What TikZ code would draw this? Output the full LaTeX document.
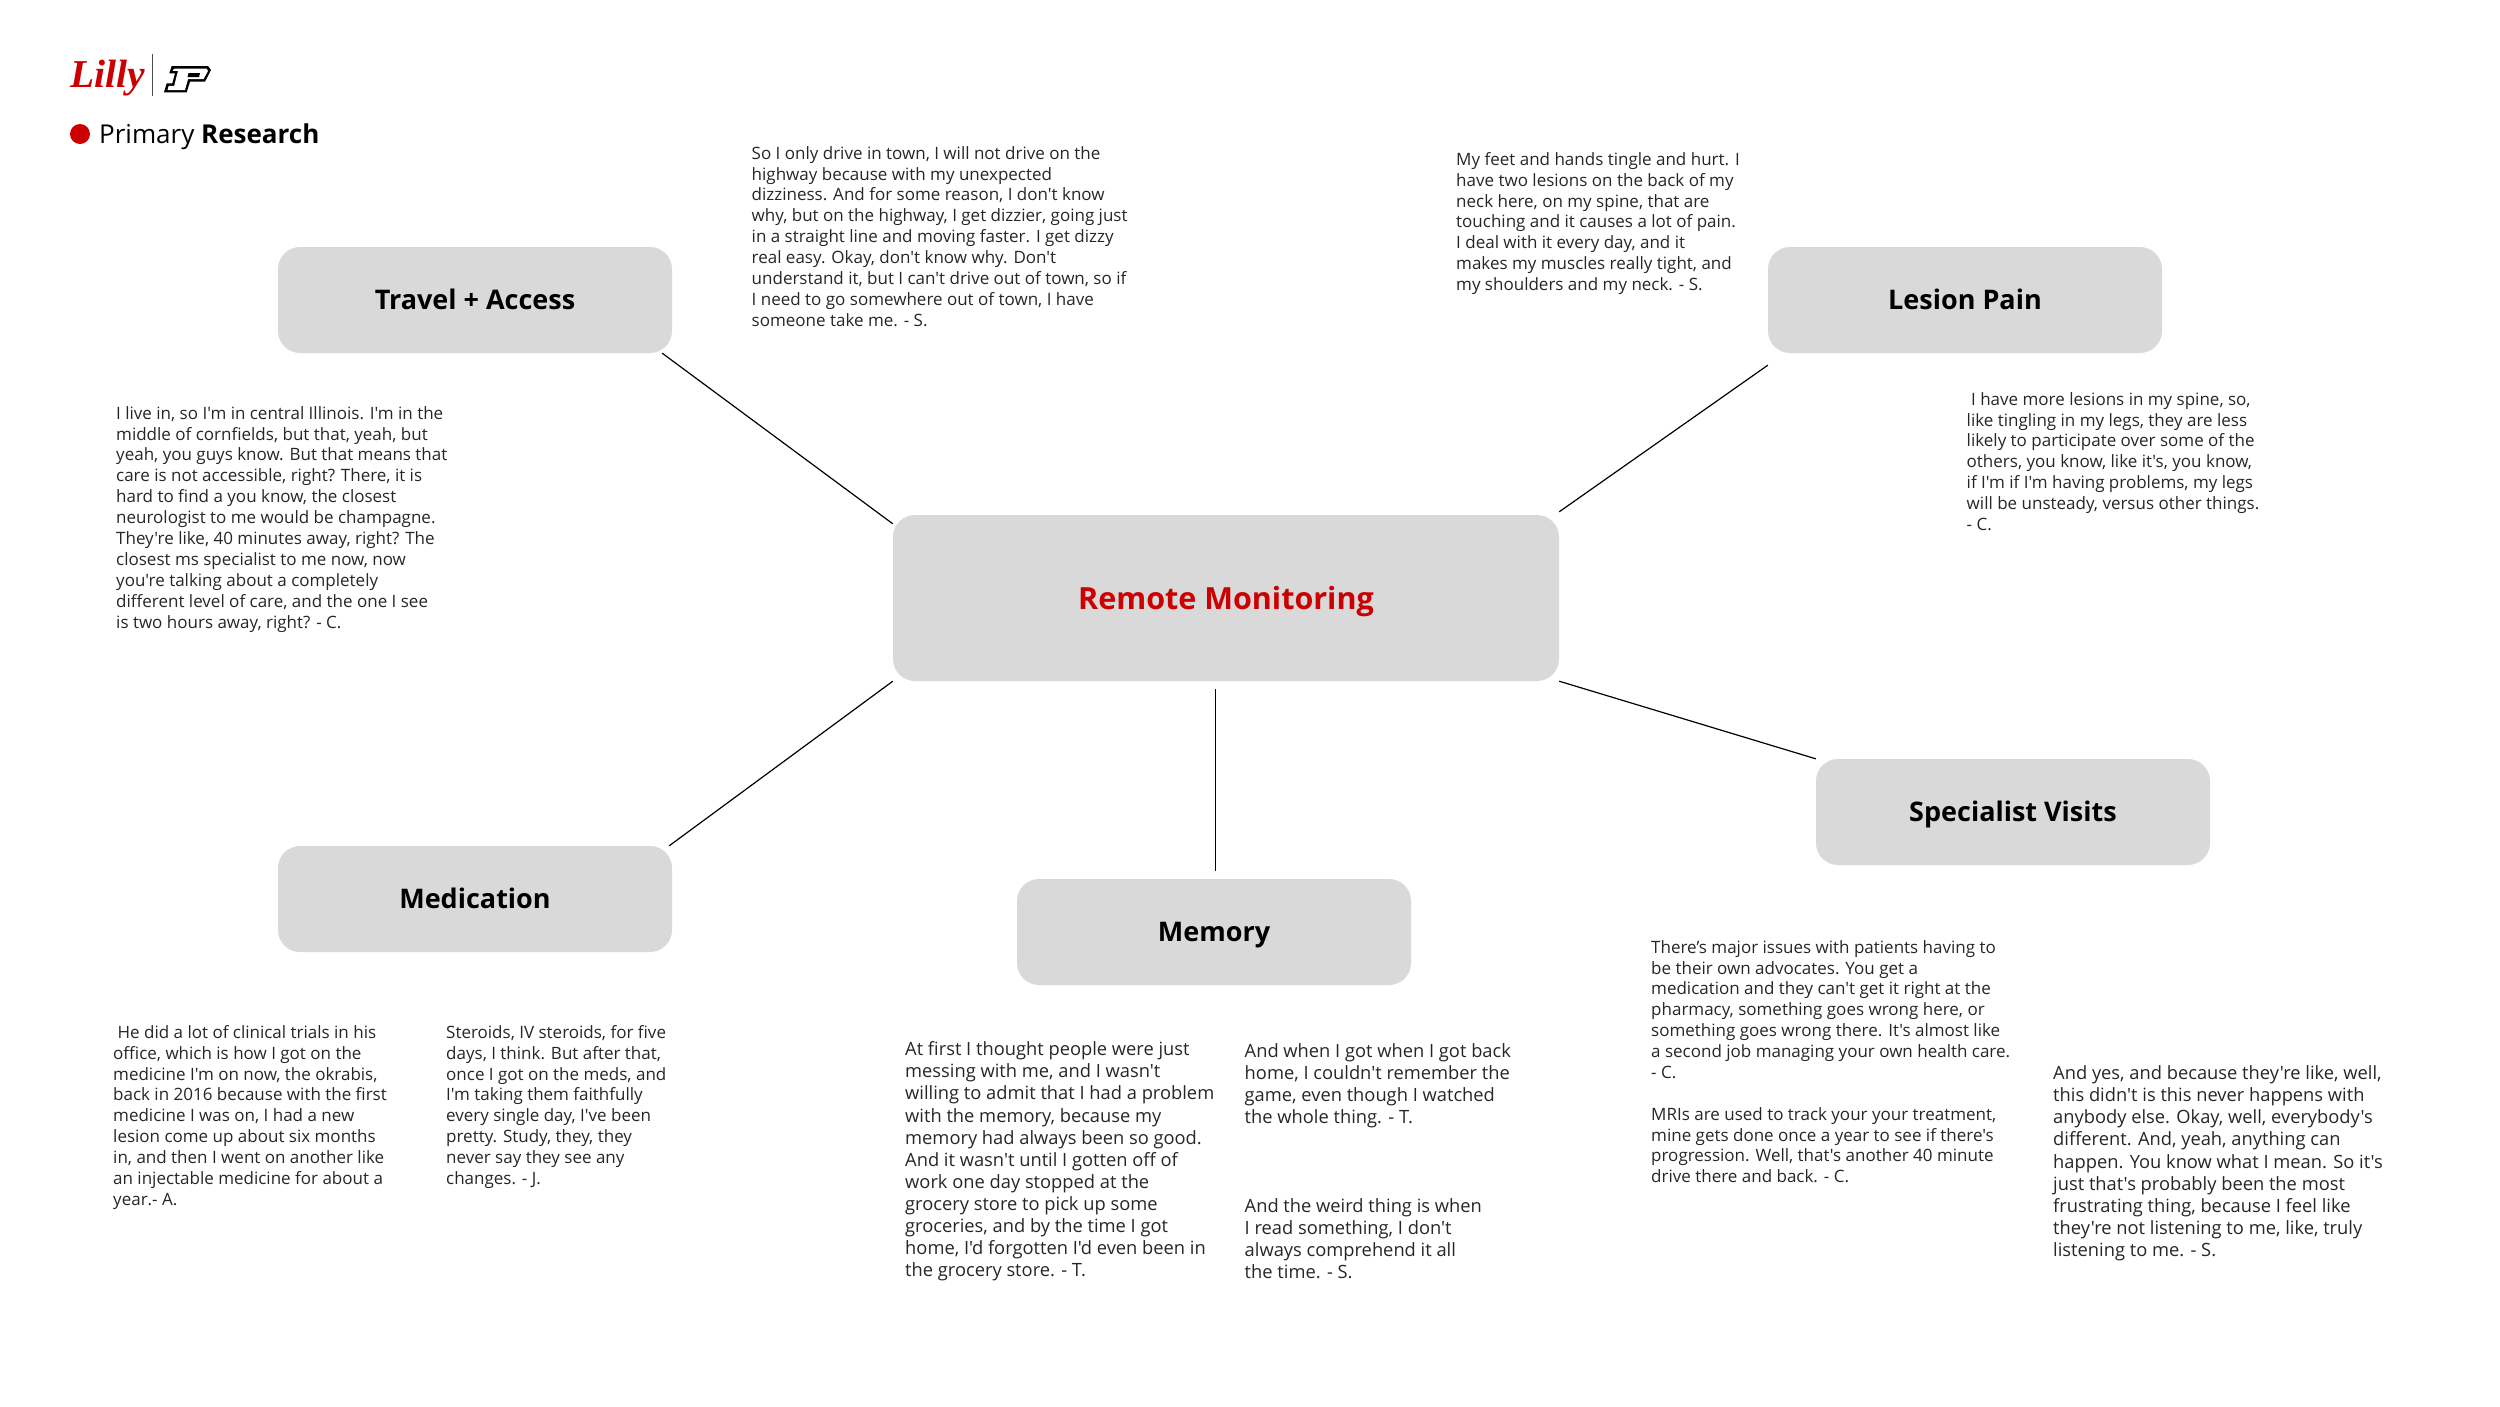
\documentclass[tikz,border=0pt]{standalone}
\usepackage{fontspec}
\setmainfont{Open Sans}[Ligatures=TeXOff]
\usetikzlibrary{calc}
\definecolor{lillyred}{RGB}{204, 0, 0}
\definecolor{boxgray}{RGB}{217, 217, 217}
\newfontfamily\logofont{Liberation Serif}

\begin{document}
\begin{tikzpicture}[x=1pt, y=-1pt,
        topicbox/.style={fill=boxgray, rounded corners=22pt, minimum width=394pt, minimum height=106pt, font=\fontsize{27}{30}\selectfont\bfseries, inner sep=0pt, text height=19pt, text depth=0pt},
        quote/.style={anchor=north west, align=left, inner sep=0pt, text=black!85, font=\fontsize{17}{20.9}\selectfont, execute at begin node=\strut},
        bigquote/.style={quote, font=\fontsize{18.3}{22.1}\selectfont},
        spoke/.style={black, line width=1.2pt}]
        \useasboundingbox (0,0) rectangle (2500,1406);

        \node[anchor=west, inner sep=0pt, font=\logofont\fontsize{39.5}{45}\selectfont\bfseries\itshape, text=lillyred] (lilly) at (70,78) {Lilly};
        \coordinate (barTop) at (152,54);
        \coordinate (barBottom) at (152,96);
        \draw[black!70, line width=1pt] (barTop) -- (barBottom);
        \fill[black] (171.7,66) -- (208,66) -- (211,70) -- (205,81.7) -- (190,81.7) -- (186.7,92.3) -- (164,92.3) -- (166.7,83.3) -- (172.3,83.3) -- (175,73.3) -- (169.3,73.3) -- cycle;
        \fill[white] (174.5,68.5) -- (206.5,68.5) -- (208,71) -- (203.5,79.2) -- (188,79.2) -- (185,90) -- (167.5,90) -- (168.7,85.8) -- (174.2,85.8) -- (178,70.8) -- (172.5,70.8) -- cycle;
        \fill[black] (188.5,73) -- (200,73) -- (199,77) -- (187.5,77) -- cycle;
        \fill[lillyred] (80,134) circle (10pt);
        \node[anchor=west, inner sep=0pt, font=\fontsize{26}{30}\selectfont] (section) at (99,137) {Primary \textbf{Research}};

        \node[topicbox, minimum width=666pt, minimum height=166pt, text=lillyred, font=\fontsize{30.5}{36}\selectfont\bfseries, text height=22pt] (remote) at (1226,598) {Remote Monitoring};
        \node[topicbox] (travel) at (475,300) {Travel + Access};
        \node[topicbox] (lesion) at (1965,300) {Lesion Pain};
        \node[topicbox] (specialist) at (2013,812) {Specialist Visits};
        \node[topicbox] (medication) at (475,899) {Medication};
        \node[topicbox] (memory) at (1214,932) {Memory};

        \draw[spoke] ([xshift=-10pt]travel.south east) -- ([yshift=-9pt]remote.north west);
        \draw[spoke] ([yshift=-12pt]lesion.south west) -- ([yshift=3pt]remote.north east);
        \draw[spoke] (remote.south west) -- ([xshift=-3pt]medication.north east);
        \draw[spoke] ([xshift=-10.5pt,yshift=-8pt]remote.south) -- ([xshift=1.5pt,yshift=8pt]memory.north);
        \draw[spoke] (remote.south east) -- (specialist.north west);

        \node[quote] (q1) at (751.5,146) {So I only drive in town, I will not drive on the\\highway because with my unexpected\\dizziness. And for some reason, I don't know\\why, but on the highway, I get dizzier, going just\\in a straight line and moving faster. I get dizzy\\real easy. Okay, don't know why. Don't\\understand it, but I can't drive out of town, so if\\I need to go somewhere out of town, I have\\someone take me. - S.};
        \node[quote] (q2) at (116,406) {I live in, so I'm in central Illinois. I'm in the\\middle of cornfields, but that, yeah, but\\yeah, you guys know. But that means that\\care is not accessible, right? There, it is\\hard to find a you know, the closest\\neurologist to me would be champagne.\\They're like, 40 minutes away, right? The\\closest ms specialist to me now, now\\you're talking about a completely\\different level of care, and the one I see\\is two hours away, right? - C.};
        \node[quote] (q3) at (1456,152) {My feet and hands tingle and hurt. I\\have two lesions on the back of my\\neck here, on my spine, that are\\touching and it causes a lot of pain.\\I deal with it every day, and it\\makes my muscles really tight, and\\my shoulders and my neck. - S.};
        \node[quote] (q4) at (1966.5,392) {\ I have more lesions in my spine, so,\\like tingling in my legs, they are less\\likely to participate over some of the\\others, you know, like it's, you know,\\if I'm if I'm having problems, my legs\\will be unsteady, versus other things.\\- C.};
        \node[quote] (q5) at (113,1025) {\ He did a lot of clinical trials in his\\office, which is how I got on the\\medicine I'm on now, the okrabis,\\back in 2016 because with the first\\medicine I was on, I had a new\\lesion come up about six months\\in, and then I went on another like\\an injectable medicine for about a\\year.- A.};
        \node[quote] (q6) at (446,1025) {Steroids, IV steroids, for five\\days, I think. But after that,\\once I got on the meds, and\\I'm taking them faithfully\\every single day, I've been\\pretty. Study, they, they\\never say they see any\\changes. - J.};
        \node[bigquote] (q7) at (905,1041.5) {At first I thought people were just\\messing with me, and I wasn't\\willing to admit that I had a problem\\with the memory, because my\\memory had always been so good.\\And it wasn't until I gotten off of\\work one day stopped at the\\grocery store to pick up some\\groceries, and by the time I got\\home, I'd forgotten I'd even been in\\the grocery store. - T.};
        \node[bigquote] (q8) at (1244.5,1043.5) {And when I got when I got back\\home, I couldn't remember the\\game, even though I watched\\the whole thing. - T.};
        \node[bigquote] (q9) at (1244.5,1198.5) {And the weird thing is when\\I read something, I don't\\always comprehend it all\\the time. - S.};
        \node[quote] (q10) at (1651,940) {There’s major issues with patients having to\\be their own advocates. You get a\\medication and they can't get it right at the\\pharmacy, something goes wrong here, or\\something goes wrong there. It's almost like\\a second job managing your own health care.\\- C.};
        \node[quote] (q11) at (1651,1107) {MRIs are used to track your your treatment,\\mine gets done once a year to see if there's\\progression. Well, that's another 40 minute\\drive there and back. - C.};
        \node[bigquote] (q12) at (2053,1065.5) {And yes, and because they're like, well,\\this didn't is this never happens with\\anybody else. Okay, well, everybody's\\different. And, yeah, anything can\\happen. You know what I mean. So it's\\just that's probably been the most\\frustrating thing, because I feel like\\they're not listening to me, like, truly\\listening to me. - S.};
      \end{tikzpicture}
\end{document}
